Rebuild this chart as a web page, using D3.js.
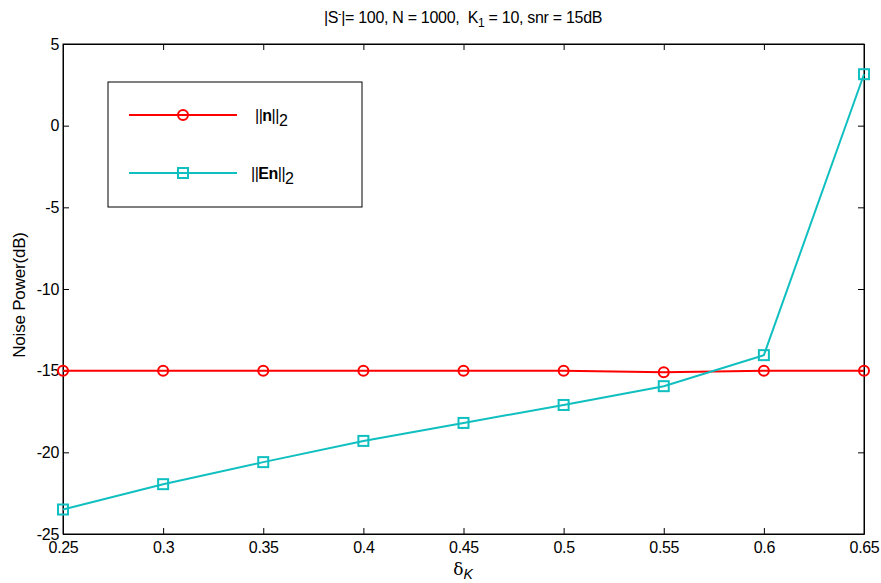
<!DOCTYPE html>
<html><head><meta charset="utf-8">
<script src="https://cdn.jsdelivr.net/npm/d3@7"></script>
<style>
body{margin:0;background:#fff;}
text{font-family:"Liberation Sans",Arial,sans-serif;fill:#000;}
</style></head>
<body>
<svg id="c" width="881" height="583"></svg>
<script>
const deltaK = [0.25,0.3,0.35,0.4,0.45,0.5,0.55,0.6,0.65];
const normN  = [-15,-15,-15,-15,-15,-15,-15.1,-15,-15];
const normEn = [-23.5,-21.95,-20.6,-19.3,-18.2,-17.1,-15.95,-14.05,3.15];
const xTicks = [0.25,0.3,0.35,0.4,0.45,0.5,0.55,0.6,0.65];
const yTicks = [5,0,-5,-10,-15,-20,-25];

const svg = d3.select("#c");
const L=63,R=864,T=44,B=534;
const x = d3.scaleLinear().domain([0.25,0.65]).range([L,R]);
const y = d3.scaleLinear().domain([-25,5]).range([B,T]);

const fmt = d => String(d);
svg.append("g").attr("class","xa").attr("transform",`translate(0,${B})`)
  .call(d3.axisBottom(x).tickValues(xTicks).tickFormat(fmt).tickSizeInner(-6).tickSizeOuter(0).tickPadding(8));
svg.append("g").attr("transform",`translate(0,${T})`)
  .call(d3.axisTop(x).tickValues(xTicks).tickFormat("").tickSizeInner(-6).tickSizeOuter(0));
svg.append("g").attr("transform",`translate(${L},0)`)
  .call(d3.axisLeft(y).tickValues(yTicks).tickFormat(fmt).tickSizeInner(-6).tickSizeOuter(0).tickPadding(4));
svg.append("g").attr("transform",`translate(${R},0)`)
  .call(d3.axisRight(y).tickValues(yTicks).tickFormat("").tickSizeInner(-6).tickSizeOuter(0));
svg.selectAll(".domain").attr("stroke","#000").attr("stroke-width",1);
svg.selectAll(".tick line").attr("stroke","#000");
svg.selectAll(".tick text").attr("font-size",16).attr("font-family","'Liberation Sans',Arial,sans-serif").attr("letter-spacing","-0.3px").attr("fill","#000");
svg.append("rect").attr("x",L).attr("y",T).attr("width",R-L).attr("height",B-T).attr("fill","none").attr("stroke","#000");

const line = d3.line().x((d,i)=>x(deltaK[i])).y(d=>y(d));
svg.append("path").datum(normN).attr("d",line).attr("fill","none").attr("stroke","#ff0000").attr("stroke-width",2);
svg.append("path").datum(normEn).attr("d",line).attr("fill","none").attr("stroke","#10bfbf").attr("stroke-width",2);
svg.selectAll("circle.m").data(normN).enter().append("circle")
  .attr("cx",(d,i)=>x(deltaK[i])).attr("cy",d=>y(d)).attr("r",5)
  .attr("fill","none").attr("stroke","#ff0000").attr("stroke-width",2);
svg.selectAll("rect.m").data(normEn).enter().append("rect")
  .attr("x",(d,i)=>x(deltaK[i])-5).attr("y",d=>y(d)-5).attr("width",10).attr("height",10)
  .attr("fill","none").attr("stroke","#10bfbf").attr("stroke-width",2);

// title
const title = svg.append("text").attr("x",463).attr("y",23).attr("text-anchor","middle").attr("font-size",16).attr("letter-spacing","-0.3px");
title.append("tspan").text("|S");
title.append("tspan").attr("dy",-6).attr("font-size",10).text("-");
title.append("tspan").attr("dy",6).text("|= 100, N = 1000,\u00a0 K");
title.append("tspan").attr("dy",4).attr("font-size",12).text("1");
title.append("tspan").attr("dy",-4).text(" = 10, snr = 15dB");

// y label
svg.append("text").attr("transform","translate(25,295) rotate(-90)").attr("text-anchor","middle").attr("font-size",17).attr("letter-spacing","-0.2px").text("Noise Power(dB)");
// x label
const xl = svg.append("text").attr("x",463).attr("y",575).attr("text-anchor","middle").attr("font-size",17);
xl.append("tspan").attr("font-family","'DejaVu Serif',serif").text("δ");
xl.append("tspan").attr("dy",4).attr("font-size",14).attr("font-style","italic").text("K");

// legend
svg.append("rect").attr("x",108).attr("y",82).attr("width",254).attr("height",125).attr("fill","#fff").attr("stroke","#000");
const lg = [{c:"#ff0000",y:115,t:"n",m:"c"},{c:"#10bfbf",y:173,t:"En",m:"s"}];
lg.forEach(d=>{
  svg.append("line").attr("x1",129).attr("x2",237).attr("y1",d.y).attr("y2",d.y).attr("stroke",d.c).attr("stroke-width",2);
  if(d.m==="c") svg.append("circle").attr("cx",183).attr("cy",d.y).attr("r",5).attr("fill","none").attr("stroke",d.c).attr("stroke-width",2);
  else svg.append("rect").attr("x",178).attr("y",d.y-5).attr("width",10).attr("height",10).attr("fill","none").attr("stroke",d.c).attr("stroke-width",2);
  const t = svg.append("text").attr("x",d.m==="c"?255:251).attr("y",d.y+6).attr("font-size",16).attr("letter-spacing","-0.5px");
  t.append("tspan").text("||");
  t.append("tspan").attr("font-weight","bold").text(d.t);
  t.append("tspan").text("||");
  t.append("tspan").attr("dy",5).attr("font-size",16).text("2");
});
</script>
</body></html>
